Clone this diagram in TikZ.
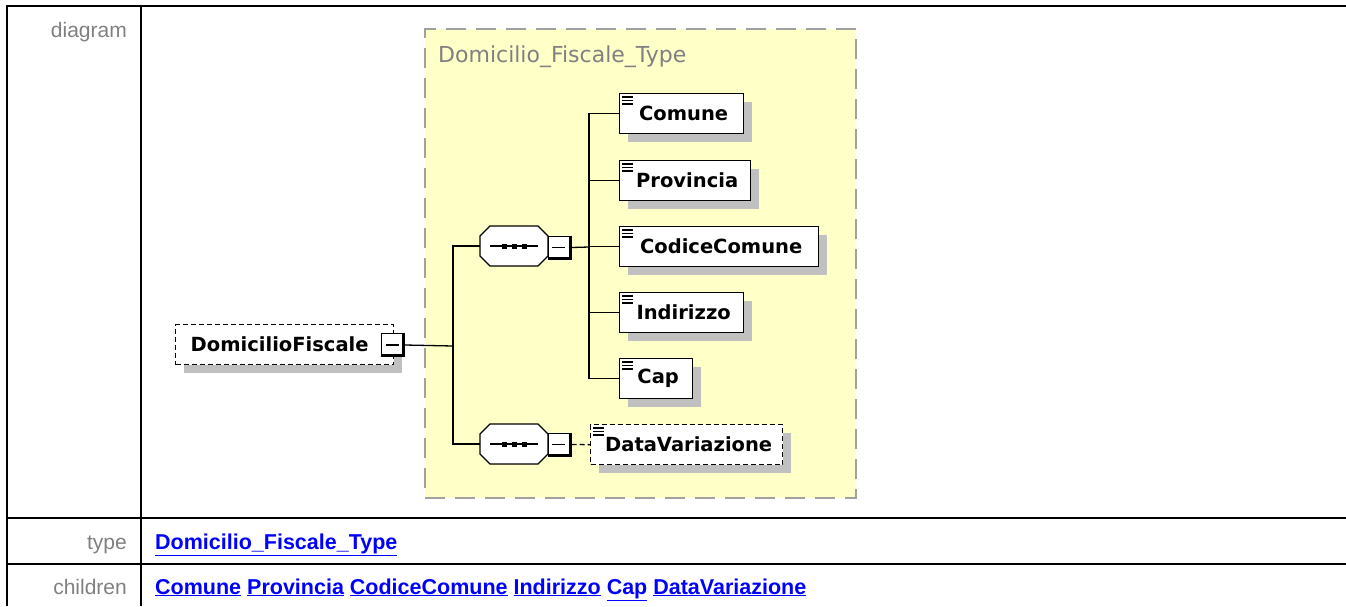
\documentclass[tikz,border=0pt]{standalone}
\usepackage{fontspec}
\setmainfont{Liberation Sans}
\newfontfamily\dvfont{DejaVu Sans}
\usetikzlibrary{shadows}
\definecolor{yel}{HTML}{FFFFC8}
\definecolor{boxgray}{HTML}{A0A0A0}
\definecolor{labgray}{HTML}{808080}
\definecolor{shgray}{HTML}{C0C0C0}
\definecolor{linkblue}{HTML}{0000FF}
\begin{document}
\begin{tikzpicture}[x=1pt,y=-1pt,
  tline/.style={line width=2pt,black},
  rowlab/.style={anchor=base east,text=labgray,font=\fontsize{21}{24}\selectfont,inner sep=0},
  linktxt/.style={anchor=base west,text=linkblue,font=\bfseries\fontsize{21.5}{24}\selectfont,inner sep=0},
  typebox/.style={draw=boxgray,fill=yel,line width=2pt,dash pattern=on 20pt off 10pt,anchor=north west,inner sep=0},
  elem/.style={draw=black,line width=1.3pt,fill=white,
    general shadow={fill=shgray,shadow xshift=8pt,shadow yshift=-8pt},
    minimum height=40,inner sep=0,anchor=north west,
    font=\dvfont\bfseries\fontsize{19.5}{22}\selectfont},
  optelem/.style={elem,dash pattern=on 5pt off 3pt},
  seqbox/.style={minimum width=68,minimum height=40,inner sep=0},
  octline/.style={draw=black,line width=1.3pt,fill=white},
  btn/.style={draw=black,line width=1pt,fill=white,minimum width=23,minimum height=23,inner sep=0},
  conn/.style={line width=1.3pt,black}
]
\useasboundingbox (0,0) rectangle (1346,606);
% table
\draw[tline] (6,6) -- (1346,6);
\draw[tline] (7,6) -- (7,606);
\draw[tline] (141,6) -- (141,606);
\draw[tline] (7,518) -- (1346,518);
\draw[tline] (7,564) -- (1346,564);
\node[rowlab] (ldiag) at (127,37) {diagram};
\node[rowlab] (ltype) at (127,549) {type};
\node[rowlab] (lchild) at (127,594) {children};
\node[linktxt] (ttype) at (155,549) {\underline{Domicilio\_Fiscale\_Type}};
\node[linktxt] (tchild) at (155,594) {\underline{Comune} \underline{Provincia} \underline{CodiceComune} \underline{Indirizzo} \underline{Cap} \underline{DataVariazione}};
% type box
\node[typebox,minimum width=431,minimum height=469] (tbox) at (424,28) {};
\node[anchor=base west,inner sep=0,text=labgray,font=\dvfont\fontsize{22}{24}\selectfont] (tlabel) at (438,62) {Domicilio\_Fiscale\_Type};
% root element
\node[optelem,minimum width=218] (root) at (175,324) {DomicilioFiscale\hspace*{10pt}};
% sequences (octagon compositors)
\node[seqbox] (seq1) at (514,246) {};
\node[seqbox] (seq2) at (514,444) {};
\foreach \s in {seq1,seq2}{
  \fill[shgray,shift={(8,8)}] ([shift={(-34,-10)}]\s.center) -- ([shift={(-24,-20)}]\s.center) -- ([shift={(24,-20)}]\s.center) -- ([shift={(34,-10)}]\s.center) -- ([shift={(34,10)}]\s.center) -- ([shift={(24,20)}]\s.center) -- ([shift={(-24,20)}]\s.center) -- ([shift={(-34,10)}]\s.center) -- cycle;
  \path[octline] ([shift={(-34,-10)}]\s.center) -- ([shift={(-24,-20)}]\s.center) -- ([shift={(24,-20)}]\s.center) -- ([shift={(34,-10)}]\s.center) -- ([shift={(34,10)}]\s.center) -- ([shift={(24,20)}]\s.center) -- ([shift={(-24,20)}]\s.center) -- ([shift={(-34,10)}]\s.center) -- cycle;
  \draw[line width=1.2pt] ([xshift=-24]\s.center) -- ([xshift=24]\s.center);
  \foreach \dx in {-10,0,10}{
    \fill ([shift={(\dx-2.5,-2.5)}]\s.center) rectangle ++(5,5);
  }
}
% buttons
\node[btn] (rbtn) at (393,345) {};
\node[btn] (b1) at (559.5,247.5) {};
\node[btn] (b2) at (559.5,444.5) {};
\foreach \b in {rbtn,b1,b2}{
  \draw[line width=3pt] ([shift={(-1.5,0)}]\b.north east) -- ([shift={(-1.5,-1.5)}]\b.south east) -- ([shift={(0,-1.5)}]\b.south west);
  \draw[line width=1.1pt] ([xshift=-7.5]\b.center) -- ([xshift=5.5]\b.center);
}
% children
\node[elem,minimum width=124] (comune) at (619,93) {\hspace*{4pt}Comune};
\node[elem,minimum width=131] (prov) at (619,160) {\hspace*{4pt}Provincia};
\node[elem,minimum width=199] (codc) at (619,226) {\hspace*{4pt}CodiceComune};
\node[elem,minimum width=124] (ind) at (619,292) {\hspace*{4pt}Indirizzo};
\node[elem,minimum width=73] (cap) at (619,358) {\hspace*{4pt}Cap};
\node[optelem,minimum width=192] (datav) at (590,424) {\hspace*{4pt}DataVariazione};
% element icons
\foreach \n in {comune,prov,codc,ind,cap,datav}{
  \foreach \dy in {4,7.5,11}{
    \draw[line width=1.1pt] ([shift={(3,\dy)}]\n.north west) -- ++(11,0);
  }
}
% connectors
\coordinate (j1) at (453,346);
\coordinate (j2) at (589,247);
\draw[conn] (rbtn.east) -- (j1);
\draw[conn] (seq1.west) -| (j1);
\draw[conn] (seq2.west) -| (j1);
\draw[conn] (b1.east) -- (j2);
\foreach \c in {comune,prov,codc,ind,cap}{
  \draw[conn] (\c.west) -| (j2);
}
\draw[conn,dash pattern=on 5pt off 3pt] (b2.east) -- (datav.west);
\end{tikzpicture}
\end{document}
